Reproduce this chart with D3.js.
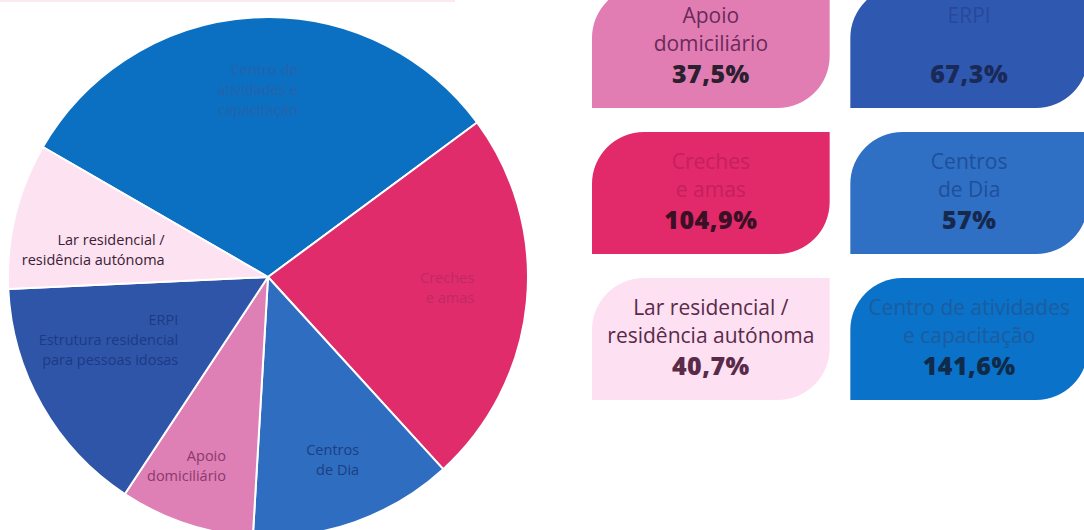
<!DOCTYPE html>
<html>
<head>
<meta charset="utf-8">
<script src="https://cdn.jsdelivr.net/npm/d3@7"></script>
<style>
  html, body { margin: 0; padding: 0; background: #ffffff; }
  svg { display: block; font-family: "Open Sans", "Noto Sans", sans-serif; }
</style>
</head>
<body>
<svg id="chart" width="1084" height="530"></svg>
<script>
// ---- data ----
const categories = ["Centro de atividades e capacitação", "Creches e amas", "Centros de Dia", "Apoio domiciliário", "ERPI", "Lar residencial / residência autónoma"];
const values = [141.6, 104.9, 57, 37.5, 67.3, 40.7];
const valueLabels = ["141,6%", "104,9%", "57%", "37,5%", "67,3%", "40,7%"];
const pieLabelLines = [
  ["Centro de", "atividades e", "capacitação"],
  ["Creches", "e amas"],
  ["Centros", "de Dia"],
  ["Apoio", "domiciliário"],
  ["ERPI", "Estrutura residencial", "para pessoas idosas"],
  ["Lar residencial /", "residência autónoma"]
];
const boxLabelLines = [
  ["Centro de atividades", "e capacitação"],
  ["Creches", "e amas"],
  ["Centros", "de Dia"],
  ["Apoio", "domiciliário"],
  ["ERPI", ""],
  ["Lar residencial /", "residência autónoma"]
];
// grid order of the cards (row, col)
const boxRow = [2, 1, 1, 0, 0, 2];
const boxCol = [1, 0, 1, 0, 1, 0];

// ---- styles ----
const sliceColors = ["#0b6fc2", "#e02c6b", "#2f6dc1", "#de7fb5", "#2f55a8", "#fde2f2"];
const sliceTextColors = ["#2763a8", "#bf2a62", "#1c3f82", "#8a3a6e", "#1c3a85", "#3a2035"];
const boxColors = ["#0a72c8", "#e2296a", "#2f6fc4", "#e27db3", "#2f59b0", "#fde0f1"];
const boxTextColors = ["#1d5c9e", "#c5205d", "#1e4f9b", "#6a2a5a", "#27489c", "#5a2a4a"];
const boxValueColors = ["#102a4a", "#3a1024", "#16294d", "#2a2030", "#1a2a58", "#5a2a4a"];
const labelRadius = [0.72, 0.69, 0.745, 0.79, 0.66, 0.68];
const labelAngleShift = [0, -2, 0, 5, 8, -5]; // degrees

const svg = d3.select("#chart");

// faint strip at top
svg.append("rect").attr("x", 0).attr("y", -20).attr("width", 455).attr("height", 22).attr("fill", "#fbe8f3");

// ---- pie ----
const cx = 268, cy = 277, R = 260;
const deg = Math.PI / 180;
const pie = d3.pie().sort(null).startAngle(-60 * deg).endAngle(300 * deg).value(d => d);
const arcs = pie(values);
const arc = d3.arc().innerRadius(0).outerRadius(R);

const g = svg.append("g").attr("transform", `translate(${cx},${cy})`);
g.selectAll("path.slice").data(arcs).join("path")
  .attr("class", "slice")
  .attr("d", arc)
  .attr("fill", (d, i) => sliceColors[i])
  .attr("stroke", "#ffffff")
  .attr("stroke-width", 2)
  .attr("stroke-linejoin", "round");

const lineH = 20;
arcs.forEach((d, i) => {
  const a = (d.startAngle + d.endAngle) / 2 + labelAngleShift[i] * deg;
  const r = R * labelRadius[i];
  const px = r * Math.sin(a), py = -r * Math.cos(a);
  const lines = pieLabelLines[i];
  const t = g.append("text")
    .attr("text-anchor", "end")
    .attr("font-size", 14.5)
    .attr("fill", sliceTextColors[i]);
  lines.forEach((ln, j) => {
    t.append("tspan").attr("x", 0).attr("y", (j - (lines.length - 1) / 2) * lineH).attr("dy", "0.35em").text(ln);
  });
  let w = 0;
  t.selectAll("tspan").each(function () { w = Math.max(w, this.getComputedTextLength()); });
  t.attr("transform", `translate(${px + w / 2},${py})`);
});

// ---- cards ----
const xBand = d3.scaleBand().domain([0, 1]).range([592, 1088]).paddingInner(0.08);
const yBand = d3.scaleBand().domain([0, 1, 2]).range([-14, 400]).paddingInner(0.164);
const rc = 52;
function leaf(x, y, w, h, r) {
  return `M${x},${y + h}` +
    `L${x},${y + r}` +
    `A${r},${r} 0 0 1 ${x + r},${y}` +
    `L${x + w},${y}` +
    `L${x + w},${y + h - r}` +
    `A${r},${r} 0 0 1 ${x + w - r},${y + h}` +
    `Z`;
}
categories.forEach((c, i) => {
  const x = xBand(boxCol[i]), y = yBand(boxRow[i]);
  const w = xBand.bandwidth(), h = yBand.bandwidth();
  const bg = svg.append("g");
  bg.append("path").attr("d", leaf(x, y, w, h, rc)).attr("fill", boxColors[i]);
  const mx = x + w / 2, my = y + h / 2;
  const lines = boxLabelLines[i];
  lines.forEach((ln, j) => {
    bg.append("text")
      .attr("x", mx).attr("y", my - 31 + j * 28)
      .attr("dy", "0.35em")
      .attr("text-anchor", "middle")
      .attr("font-size", 21)
      .attr("fill", boxTextColors[i])
      .text(ln);
  });
  bg.append("text")
    .attr("x", mx).attr("y", my + 27)
    .attr("dy", "0.35em")
    .attr("text-anchor", "middle")
    .attr("font-size", 25)
    .attr("font-weight", 800)
    .attr("letter-spacing", 0.5)
    .attr("fill", boxValueColors[i])
    .text(valueLabels[i]);
});
</script>
</body>
</html>
